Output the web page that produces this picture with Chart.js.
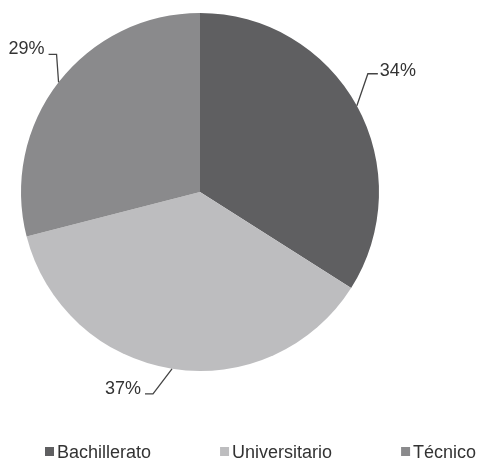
<!DOCTYPE html>
<html>
<head>
<meta charset="utf-8">
<script src="https://cdn.jsdelivr.net/npm/chart.js@4/dist/chart.umd.min.js"></script>
<style>
  html, body { margin: 0; padding: 0; background: #fff; }
  #wrap { width: 481px; height: 463px; position: relative; }
</style>
</head>
<body>
<div id="wrap"><canvas id="pie"></canvas></div>
<script>
// Chart data
const categories = ["Bachillerato", "Universitario", "Técnico"];
const percentValues = [34, 37, 29];
const sliceColors = ["#5f5f61", "#bdbdbf", "#8a8a8c"];

const FONT = "'Liberation Sans', Arial, sans-serif";
const TEXT_COLOR = "#333333";

// Leader line placement for each slice (elbow offset from arc edge, then a short horizontal run)
const leaderOffsets = [
  { dx: 11, dy: -32, run: 10 },
  { dx: -19, dy: 25, run: -8 },
  { dx: -2, dy: -28, run: -8 }
];

const leaderLabels = {
  id: "leaderLabels",
  afterDatasetsDraw(chart) {
    const ctx = chart.ctx;
    const meta = chart.getDatasetMeta(0);
    ctx.save();
    ctx.strokeStyle = "#444444";
    ctx.lineWidth = 1.3;
    ctx.fillStyle = TEXT_COLOR;
    ctx.font = "18px " + FONT;
    ctx.textBaseline = "middle";
    meta.data.forEach((arc, i) => {
      const p = arc.getProps(["x", "y", "startAngle", "endAngle", "outerRadius"], true);
      const mid = (p.startAngle + p.endAngle) / 2;
      const ex = p.x + Math.cos(mid) * p.outerRadius;
      const ey = p.y + Math.sin(mid) * p.outerRadius;
      const o = leaderOffsets[i];
      const bx = ex + o.dx, by = ey + o.dy;
      const cx = bx + o.run;
      ctx.beginPath();
      ctx.moveTo(ex, ey);
      ctx.lineTo(bx, by);
      ctx.lineTo(cx, by);
      ctx.stroke();
      const label = percentValues[i] + "%";
      if (o.run > 0) {
        ctx.textAlign = "left";
        ctx.fillText(label, cx + 2, by - 3);
      } else {
        ctx.textAlign = "right";
        ctx.fillText(label, cx - 4, by - 5);
      }
    });
    ctx.restore();
  }
};

// Bottom legend with wide, even spacing
const bottomLegend = {
  id: "bottomLegend",
  afterDraw(chart) {
    const ctx = chart.ctx;
    ctx.save();
    ctx.font = "18px " + FONT;
    ctx.textBaseline = "middle";
    ctx.textAlign = "left";
    let x = 45;
    const y = 453;
    categories.forEach((name, i) => {
      ctx.fillStyle = sliceColors[i];
      ctx.fillRect(x, y - 6, 9, 9);
      ctx.fillStyle = TEXT_COLOR;
      ctx.fillText(name, x + 12, y);
      x += 12 + ctx.measureText(name).width + 69;
    });
    ctx.restore();
  }
};

new Chart(document.getElementById("pie"), {
  type: "pie",
  data: {
    labels: categories,
    datasets: [{
      data: percentValues,
      backgroundColor: sliceColors,
      borderWidth: 0
    }]
  },
  options: {
    responsive: true,
    maintainAspectRatio: false,
    animation: false,
    layout: { padding: { top: 13, bottom: 92, left: 21, right: 102 } },
    plugins: {
      legend: { display: false },
      tooltip: { enabled: false }
    }
  },
  plugins: [leaderLabels, bottomLegend]
});
</script>
</body>
</html>
